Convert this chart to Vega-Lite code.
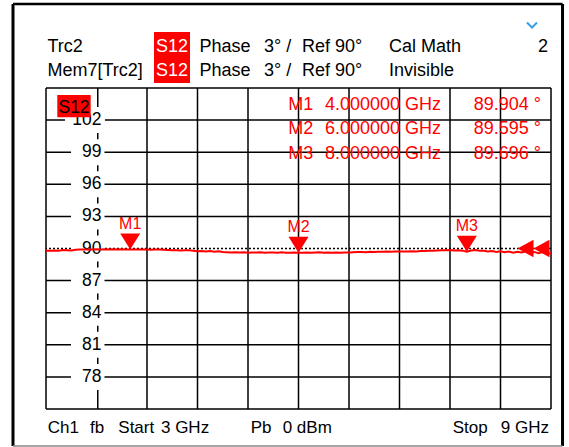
{
  "$schema": "https://vega.github.io/schema/vega-lite/v6.json",
  "width": 505,
  "height": 321,
  "autosize": {"type": "none"},
  "padding": {"left": 46, "top": 88, "right": 18, "bottom": 38},
  "background": "white",
  "config": {
    "view": {"stroke": null},
    "text": {"font": "Liberation Sans", "fontSize": 18, "color": "black"}
  },
  "data": {"values": [{}]},
  "datasets": {
    "xgrid": [{"f":3},{"f":4.2},{"f":4.8},{"f":5.4},{"f":6},{"f":6.6},{"f":7.2},{"f":7.8},{"f":8.4},{"f":9}],
    "ygrid": [{"v":75},{"v":78},{"v":81},{"v":84},{"v":87},{"v":93},{"v":96},{"v":99},{"v":102},{"v":105}],
    "trace": [
      {"f":3.00,"phase":89.80},{"f":3.05,"phase":89.80},{"f":3.10,"phase":89.81},{"f":3.15,"phase":89.80},{"f":3.20,"phase":89.85},
      {"f":3.25,"phase":89.84},{"f":3.30,"phase":89.82},{"f":3.35,"phase":89.88},{"f":3.40,"phase":89.91},{"f":3.45,"phase":89.90},
      {"f":3.50,"phase":89.91},{"f":3.55,"phase":89.90},{"f":3.60,"phase":89.92},{"f":3.65,"phase":89.91},{"f":3.70,"phase":89.93},
      {"f":3.75,"phase":89.90},{"f":3.80,"phase":89.92},{"f":3.85,"phase":89.91},{"f":3.90,"phase":89.93},{"f":3.95,"phase":89.91},
      {"f":4.00,"phase":89.904},{"f":4.05,"phase":89.91},{"f":4.10,"phase":89.90},{"f":4.15,"phase":89.91},{"f":4.20,"phase":89.90},
      {"f":4.25,"phase":89.89},{"f":4.30,"phase":89.91},{"f":4.35,"phase":89.90},{"f":4.40,"phase":89.88},{"f":4.45,"phase":89.86},
      {"f":4.50,"phase":89.83},{"f":4.55,"phase":89.84},{"f":4.60,"phase":89.82},{"f":4.65,"phase":89.84},{"f":4.70,"phase":89.83},
      {"f":4.75,"phase":89.80},{"f":4.80,"phase":89.74},{"f":4.85,"phase":89.77},{"f":4.90,"phase":89.71},{"f":4.95,"phase":89.76},
      {"f":5.00,"phase":89.70},{"f":5.05,"phase":89.74},{"f":5.10,"phase":89.68},{"f":5.15,"phase":89.66},{"f":5.20,"phase":89.63},
      {"f":5.25,"phase":89.64},{"f":5.30,"phase":89.62},{"f":5.35,"phase":89.65},{"f":5.40,"phase":89.61},{"f":5.45,"phase":89.63},
      {"f":5.50,"phase":89.62},{"f":5.55,"phase":89.64},{"f":5.60,"phase":89.61},{"f":5.65,"phase":89.62},{"f":5.70,"phase":89.63},
      {"f":5.75,"phase":89.60},{"f":5.80,"phase":89.64},{"f":5.85,"phase":89.61},{"f":5.90,"phase":89.60},{"f":5.95,"phase":89.62},
      {"f":6.00,"phase":89.595},{"f":6.05,"phase":89.61},{"f":6.10,"phase":89.63},{"f":6.15,"phase":89.60},{"f":6.20,"phase":89.62},
      {"f":6.25,"phase":89.64},{"f":6.30,"phase":89.61},{"f":6.35,"phase":89.63},{"f":6.40,"phase":89.60},{"f":6.45,"phase":89.62},
      {"f":6.50,"phase":89.61},{"f":6.55,"phase":89.63},{"f":6.60,"phase":89.62},{"f":6.65,"phase":89.65},{"f":6.70,"phase":89.67},
      {"f":6.75,"phase":89.68},{"f":6.80,"phase":89.66},{"f":6.85,"phase":89.69},{"f":6.90,"phase":89.68},{"f":6.95,"phase":89.70},
      {"f":7.00,"phase":89.69},{"f":7.05,"phase":89.71},{"f":7.10,"phase":89.70},{"f":7.15,"phase":89.72},{"f":7.20,"phase":89.71},
      {"f":7.25,"phase":89.73},{"f":7.30,"phase":89.72},{"f":7.35,"phase":89.74},{"f":7.40,"phase":89.73},{"f":7.45,"phase":89.76},
      {"f":7.50,"phase":89.77},{"f":7.55,"phase":89.79},{"f":7.60,"phase":89.78},{"f":7.65,"phase":89.81},{"f":7.70,"phase":89.84},
      {"f":7.75,"phase":89.83},{"f":7.80,"phase":89.85},{"f":7.85,"phase":89.82},{"f":7.90,"phase":89.84},{"f":7.95,"phase":89.80},
      {"f":8.00,"phase":89.696},{"f":8.05,"phase":89.82},{"f":8.10,"phase":89.86},{"f":8.15,"phase":89.80},{"f":8.20,"phase":89.78},
      {"f":8.25,"phase":89.72},{"f":8.30,"phase":89.76},{"f":8.35,"phase":89.68},{"f":8.40,"phase":89.74},{"f":8.45,"phase":89.66},
      {"f":8.50,"phase":89.72},{"f":8.55,"phase":89.60},{"f":8.60,"phase":89.70},{"f":8.65,"phase":89.62},{"f":8.70,"phase":89.74},
      {"f":8.75,"phase":89.58},{"f":8.80,"phase":89.68},{"f":8.85,"phase":89.55},{"f":8.90,"phase":89.66},{"f":8.95,"phase":89.52},
      {"f":9.00,"phase":89.55}
    ],
    "markers": [
      {"name":"M1","f":4,"phase":89.904},
      {"name":"M2","f":6,"phase":89.595},
      {"name":"M3","f":8,"phase":89.696}
    ],
    "labels2": [{"v":78},{"v":81},{"v":84},{"v":87},{"v":90},{"v":93},{"v":96},{"v":99}],
    "labels3": [{"v":102}],
    "labelsAll": [{"v":78},{"v":81},{"v":84},{"v":87},{"v":90},{"v":93},{"v":96},{"v":99},{"v":102}]
  },
  "layer": [
    {
      "data": {"name": "xgrid"},
      "mark": {"type": "rule", "color": "black", "strokeWidth": 1.5},
      "encoding": {"x": {"field": "f", "type": "quantitative", "axis": null, "scale": {"domain": [3, 9], "nice": false, "zero": false}}}
    },
    {
      "data": {"name": "ygrid"},
      "mark": {"type": "rule", "color": "black", "strokeWidth": 1.5},
      "encoding": {"y": {"field": "v", "type": "quantitative", "axis": null, "scale": {"domain": [75, 105], "nice": false, "zero": false}}}
    },
    {
      "mark": {"type": "rule", "color": "black", "strokeWidth": 1.5, "strokeDash": [2, 2]},
      "encoding": {"y": {"datum": 90, "type": "quantitative", "axis": null}}
    },
    {
      "mark": {"type": "rule", "color": "black", "strokeWidth": 1.5},
      "encoding": {"x": {"datum": 3.615, "type": "quantitative", "axis": null}}
    },
    {
      "data": {"name": "labels2"},
      "mark": {"type": "point", "shape": "M-1,-0.776H1V0.776H-1Z", "filled": true, "fill": "white", "opacity": 1, "strokeWidth": 0, "size": 1122},
      "encoding": {"x": {"datum": 3.496, "type": "quantitative", "axis": null}, "y": {"field": "v", "type": "quantitative", "axis": null}}
    },
    {
      "data": {"name": "labels3"},
      "mark": {"type": "point", "shape": "M-1,-0.65H1V0.65H-1Z", "filled": true, "fill": "white", "opacity": 1, "strokeWidth": 0, "size": 1600},
      "encoding": {"x": {"datum": 3.463, "type": "quantitative", "axis": null}, "y": {"field": "v", "type": "quantitative", "axis": null}}
    },
    {
      "data": {"name": "labelsAll"},
      "mark": {"type": "text", "align": "right", "baseline": "middle", "fontSize": 17.5},
      "encoding": {"x": {"datum": 3.659, "type": "quantitative", "axis": null}, "y": {"field": "v", "type": "quantitative", "axis": null}, "text": {"field": "v"}}
    },
    {
      "data": {"name": "trace"},
      "mark": {"type": "line", "color": "#ff0000", "strokeWidth": 2},
      "encoding": {"x": {"field": "f", "type": "quantitative", "axis": null}, "y": {"field": "phase", "type": "quantitative", "axis": null}}
    },
    {
      "data": {"name": "markers"},
      "mark": {"type": "point", "shape": "M-1,-1.6L1,-1.6L0,0Z", "filled": true, "color": "#ff0000", "opacity": 1, "size": 400},
      "encoding": {"x": {"field": "f", "type": "quantitative", "axis": null}, "y": {"field": "phase", "type": "quantitative", "axis": null}}
    },
    {
      "data": {"name": "markers"},
      "mark": {"type": "text", "align": "center", "baseline": "alphabetic", "dy": -21, "fontSize": 16, "color": "#ff0000"},
      "encoding": {"x": {"field": "f", "type": "quantitative", "axis": null}, "y": {"field": "phase", "type": "quantitative", "axis": null}, "text": {"field": "name"}}
    },
    {
      "mark": {"type": "point", "shape": "M-1,0L1,-1.1L1,1.1Z", "filled": true, "color": "#ff0000", "opacity": 1, "size": 256},
      "encoding": {"x": {"datum": 8.697, "type": "quantitative", "axis": null}, "y": {"datum": 90, "type": "quantitative", "axis": null}}
    },
    {
      "mark": {"type": "point", "shape": "M-1,0L1,-1.1L1,1.1Z", "filled": true, "color": "#ff0000", "opacity": 1, "size": 256},
      "encoding": {"x": {"datum": 8.887, "type": "quantitative", "axis": null}, "y": {"datum": 90, "type": "quantitative", "axis": null}}
    },
    {
      "mark": {"type": "rect", "color": "#ff0000"},
      "encoding": {"x": {"datum": 3.134, "type": "quantitative", "axis": null}, "x2": {"datum": 3.531}, "y": {"datum": 104.35, "type": "quantitative", "axis": null}, "y2": {"datum": 102.26}}
    },
    {
      "mark": {"type": "text", "align": "center", "baseline": "alphabetic", "fontSize": 17.5, "color": "black", "text": "S12"},
      "encoding": {"x": {"datum": 3.333, "type": "quantitative", "axis": null}, "y": {"datum": 102.64, "type": "quantitative", "axis": null}}
    },
    {
      "mark": {"type": "rect", "color": "#ff0000"},
      "encoding": {"x": {"datum": 4.283, "type": "quantitative", "axis": null}, "x2": {"datum": 4.711}, "y": {"datum": 110.23, "type": "quantitative", "axis": null}, "y2": {"datum": 105.47}}
    },
    {"mark": {"type": "text", "align": "left", "baseline": "alphabetic", "text": "Trc2"}, "encoding": {"x": {"datum": 3.018, "type": "quantitative", "axis": null}, "y": {"datum": 108.36, "type": "quantitative", "axis": null}}},
    {"mark": {"type": "text", "align": "center", "baseline": "alphabetic", "text": "S12", "color": "white"}, "encoding": {"x": {"datum": 4.497, "type": "quantitative", "axis": null}, "y": {"datum": 108.36, "type": "quantitative", "axis": null}}},
    {"mark": {"type": "text", "align": "left", "baseline": "alphabetic", "text": "Phase"}, "encoding": {"x": {"datum": 4.824, "type": "quantitative", "axis": null}, "y": {"datum": 108.36, "type": "quantitative", "axis": null}}},
    {"mark": {"type": "text", "align": "left", "baseline": "alphabetic", "text": "3° /"}, "encoding": {"x": {"datum": 5.590, "type": "quantitative", "axis": null}, "y": {"datum": 108.36, "type": "quantitative", "axis": null}}},
    {"mark": {"type": "text", "align": "left", "baseline": "alphabetic", "text": "Ref 90°"}, "encoding": {"x": {"datum": 6.042, "type": "quantitative", "axis": null}, "y": {"datum": 108.36, "type": "quantitative", "axis": null}}},
    {"mark": {"type": "text", "align": "left", "baseline": "alphabetic", "text": "Cal Math"}, "encoding": {"x": {"datum": 7.075, "type": "quantitative", "axis": null}, "y": {"datum": 108.36, "type": "quantitative", "axis": null}}},
    {"mark": {"type": "text", "align": "right", "baseline": "alphabetic", "text": "2"}, "encoding": {"x": {"datum": 8.964, "type": "quantitative", "axis": null}, "y": {"datum": 108.36, "type": "quantitative", "axis": null}}},
    {"mark": {"type": "text", "align": "left", "baseline": "alphabetic", "text": "Mem7[Trc2]"}, "encoding": {"x": {"datum": 3.018, "type": "quantitative", "axis": null}, "y": {"datum": 106.12, "type": "quantitative", "axis": null}}},
    {"mark": {"type": "text", "align": "center", "baseline": "alphabetic", "text": "S12", "color": "white"}, "encoding": {"x": {"datum": 4.497, "type": "quantitative", "axis": null}, "y": {"datum": 106.12, "type": "quantitative", "axis": null}}},
    {"mark": {"type": "text", "align": "left", "baseline": "alphabetic", "text": "Phase"}, "encoding": {"x": {"datum": 4.824, "type": "quantitative", "axis": null}, "y": {"datum": 106.12, "type": "quantitative", "axis": null}}},
    {"mark": {"type": "text", "align": "left", "baseline": "alphabetic", "text": "3° /"}, "encoding": {"x": {"datum": 5.590, "type": "quantitative", "axis": null}, "y": {"datum": 106.12, "type": "quantitative", "axis": null}}},
    {"mark": {"type": "text", "align": "left", "baseline": "alphabetic", "text": "Ref 90°"}, "encoding": {"x": {"datum": 6.042, "type": "quantitative", "axis": null}, "y": {"datum": 106.12, "type": "quantitative", "axis": null}}},
    {"mark": {"type": "text", "align": "left", "baseline": "alphabetic", "text": "Invisible"}, "encoding": {"x": {"datum": 7.075, "type": "quantitative", "axis": null}, "y": {"datum": 106.12, "type": "quantitative", "axis": null}}},
    {"mark": {"type": "text", "align": "left", "baseline": "alphabetic", "color": "#ff0000", "text": "M1"}, "encoding": {"x": {"datum": 5.879, "type": "quantitative", "axis": null}, "y": {"datum": 102.94, "type": "quantitative", "axis": null}}},
    {"mark": {"type": "text", "align": "left", "baseline": "alphabetic", "color": "#ff0000", "text": "4.000000 GHz"}, "encoding": {"x": {"datum": 6.315, "type": "quantitative", "axis": null}, "y": {"datum": 102.94, "type": "quantitative", "axis": null}}},
    {"mark": {"type": "text", "align": "right", "baseline": "alphabetic", "color": "#ff0000", "text": "89.904 °"}, "encoding": {"x": {"datum": 8.881, "type": "quantitative", "axis": null}, "y": {"datum": 102.94, "type": "quantitative", "axis": null}}},
    {"mark": {"type": "text", "align": "left", "baseline": "alphabetic", "color": "#ff0000", "text": "M2"}, "encoding": {"x": {"datum": 5.879, "type": "quantitative", "axis": null}, "y": {"datum": 100.67, "type": "quantitative", "axis": null}}},
    {"mark": {"type": "text", "align": "left", "baseline": "alphabetic", "color": "#ff0000", "text": "6.000000 GHz"}, "encoding": {"x": {"datum": 6.315, "type": "quantitative", "axis": null}, "y": {"datum": 100.67, "type": "quantitative", "axis": null}}},
    {"mark": {"type": "text", "align": "right", "baseline": "alphabetic", "color": "#ff0000", "text": "89.595 °"}, "encoding": {"x": {"datum": 8.881, "type": "quantitative", "axis": null}, "y": {"datum": 100.67, "type": "quantitative", "axis": null}}},
    {"mark": {"type": "text", "align": "left", "baseline": "alphabetic", "color": "#ff0000", "text": "M3"}, "encoding": {"x": {"datum": 5.879, "type": "quantitative", "axis": null}, "y": {"datum": 98.36, "type": "quantitative", "axis": null}}},
    {"mark": {"type": "text", "align": "left", "baseline": "alphabetic", "color": "#ff0000", "text": "8.000000 GHz"}, "encoding": {"x": {"datum": 6.315, "type": "quantitative", "axis": null}, "y": {"datum": 98.36, "type": "quantitative", "axis": null}}},
    {"mark": {"type": "text", "align": "right", "baseline": "alphabetic", "color": "#ff0000", "text": "89.696 °"}, "encoding": {"x": {"datum": 8.881, "type": "quantitative", "axis": null}, "y": {"datum": 98.36, "type": "quantitative", "axis": null}}},
    {"mark": {"type": "text", "align": "left", "baseline": "alphabetic", "fontSize": 17, "text": "Ch1"}, "encoding": {"x": {"datum": 3.020, "type": "quantitative", "axis": null}, "y": {"datum": 72.73, "type": "quantitative", "axis": null}}},
    {"mark": {"type": "text", "align": "left", "baseline": "alphabetic", "fontSize": 17, "text": "fb"}, "encoding": {"x": {"datum": 3.523, "type": "quantitative", "axis": null}, "y": {"datum": 72.73, "type": "quantitative", "axis": null}}},
    {"mark": {"type": "text", "align": "left", "baseline": "alphabetic", "fontSize": 17, "text": "Start"}, "encoding": {"x": {"datum": 3.859, "type": "quantitative", "axis": null}, "y": {"datum": 72.73, "type": "quantitative", "axis": null}}},
    {"mark": {"type": "text", "align": "left", "baseline": "alphabetic", "fontSize": 17, "text": "3 GHz"}, "encoding": {"x": {"datum": 4.366, "type": "quantitative", "axis": null}, "y": {"datum": 72.73, "type": "quantitative", "axis": null}}},
    {"mark": {"type": "text", "align": "left", "baseline": "alphabetic", "fontSize": 17, "text": "Pb"}, "encoding": {"x": {"datum": 5.432, "type": "quantitative", "axis": null}, "y": {"datum": 72.73, "type": "quantitative", "axis": null}}},
    {"mark": {"type": "text", "align": "left", "baseline": "alphabetic", "fontSize": 17, "text": "0 dBm"}, "encoding": {"x": {"datum": 5.812, "type": "quantitative", "axis": null}, "y": {"datum": 72.73, "type": "quantitative", "axis": null}}},
    {"mark": {"type": "text", "align": "left", "baseline": "alphabetic", "fontSize": 17, "text": "Stop"}, "encoding": {"x": {"datum": 7.832, "type": "quantitative", "axis": null}, "y": {"datum": 72.73, "type": "quantitative", "axis": null}}},
    {"mark": {"type": "text", "align": "right", "baseline": "alphabetic", "fontSize": 17, "text": "9 GHz"}, "encoding": {"x": {"datum": 8.976, "type": "quantitative", "axis": null}, "y": {"datum": 72.73, "type": "quantitative", "axis": null}}},
    {"mark": {"type": "rule", "color": "black", "strokeWidth": 3}, "encoding": {"x": {"datum": 2.608, "type": "quantitative", "axis": null}, "y": {"datum": 112.85, "type": "quantitative", "axis": null}, "y2": {"datum": 71.54}}},
    {"mark": {"type": "rule", "color": "black", "strokeWidth": 3}, "encoding": {"x": {"datum": 9.137, "type": "quantitative", "axis": null}, "y": {"datum": 112.85, "type": "quantitative", "axis": null}, "y2": {"datum": 71.54}}},
    {"mark": {"type": "rule", "color": "black", "strokeWidth": 2.5}, "encoding": {"x": {"datum": 2.608, "type": "quantitative", "axis": null}, "x2": {"datum": 9.137}, "y": {"datum": 112.85, "type": "quantitative", "axis": null}}},
    {"mark": {"type": "rule", "color": "#888888", "strokeWidth": 1.5}, "encoding": {"x": {"datum": 2.608, "type": "quantitative", "axis": null}, "x2": {"datum": 9.137}, "y": {"datum": 71.54, "type": "quantitative", "axis": null}}},
    {"mark": {"type": "point", "shape": "M-1,-0.5L0,0.5L1,-0.5", "filled": false, "stroke": "#3a9ee4", "strokeWidth": 2, "opacity": 1, "size": 100}, "encoding": {"x": {"datum": 8.774, "type": "quantitative", "axis": null}, "y": {"datum": 110.89, "type": "quantitative", "axis": null}}}
  ]
}
